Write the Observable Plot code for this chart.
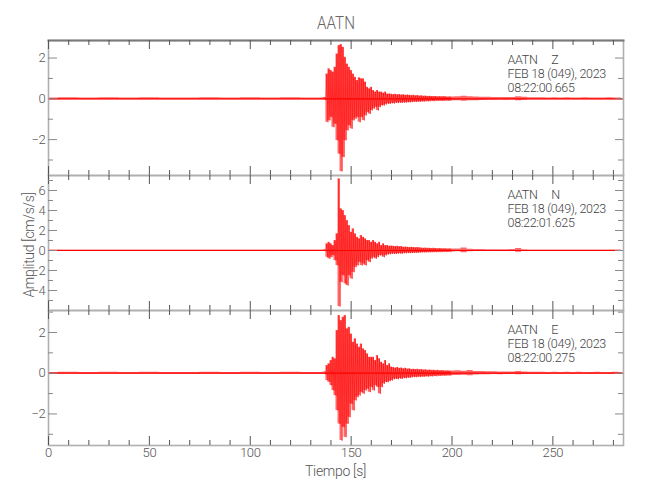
<!DOCTYPE html>
<html>
<head>
<meta charset="utf-8">
<script src="https://cdn.jsdelivr.net/npm/d3@7"></script>
<script src="https://cdn.jsdelivr.net/npm/@observablehq/plot@0.6"></script>
<style>
  body { margin: 0; background: white; }
  #wrap { position: relative; width: 650px; height: 500px; background: white; overflow: hidden; }
  #wrap svg { position: absolute; left: 0; }
  .lbl { position: absolute; font-family: Roboto, 'Liberation Sans', sans-serif; font-weight: 300; color: #555; white-space: nowrap; }
</style>
</head>
<body>
<div id="wrap"></div>
<script>
const FONT = "Roboto, 'Liberation Sans', sans-serif";

// sample times (s)
const time = [0,10,20,30,40,50,60,70,80,90,100,110,120,130,135,136,137,
  138,139,140,141,142,143,144,145,146,147,148,149,150,151,152,153,154,155,156,157,
  158,159,160,161,162,163,164,165,166,167,168,169,170,171,172,173,174,175,176,177,
  178,179,180,181,182,183,184,185,186,187,188,189,190,191,192,193,194,195,196,197,198,199,
  200,203,206,209,212,215,218,221,224,227,230,233,236,239,242,245,248,251,254,257,260,263,266,269,272,275,278,281,284];

// Z component: upper / lower peaks
const zUp = [0.04,0.05,0.04,0.05,0.04,0.05,0.04,0.04,0.05,0.04,0.05,0.04,0.05,0.04,0.04,0.05,0.06,
  1.22,1.47,1.39,1.31,1.55,2.20,2.61,2.66,2.53,2.04,
  1.71,1.55,1.39,1.22,1.06,0.90,1.03,0.98,0.98,0.82,
  0.57,0.49,0.57,0.41,0.33,0.41,0.33,0.33,0.28,0.33,
  0.24,0.24,0.22,0.21,0.22,0.20,0.21,0.19,0.20,0.18,
  0.19,0.17,0.16,0.17,0.15,0.16,0.14,0.15,0.13,0.14,
  0.12,0.13,0.12,0.11,0.12,0.10,0.11,0.10,0.11,0.10,
  0.09,0.10,
  0.09,0.10,0.13,0.10,0.09,0.08,0.08,0.07,0.07,0.06,0.07,0.10,0.08,0.05,0.05,0.05,0.04,0.05,0.04,0.05,0.04,0.04,0.05,0.04,0.04,0.04,0.05,0.04,0.04];
const zDn = [-0.05,-0.04,-0.05,-0.04,-0.05,-0.04,-0.05,-0.05,-0.04,-0.05,-0.04,-0.05,-0.04,-0.05,-0.05,-0.04,-0.06,
  -1.15,-1.06,-0.90,-1.39,-1.23,-2.04,-2.70,-3.56,-2.86,-2.04,
  -1.55,-1.31,-1.47,-1.06,-0.98,-0.90,-1.15,-0.90,-1.06,-0.82,
  -0.66,-0.74,-0.57,-0.49,-0.41,-0.57,-0.41,-0.33,-0.33,-0.28,
  -0.24,-0.25,-0.22,-0.23,-0.20,-0.21,-0.19,-0.20,-0.18,-0.19,
  -0.17,-0.18,-0.16,-0.15,-0.16,-0.14,-0.15,-0.13,-0.14,-0.12,
  -0.13,-0.12,-0.11,-0.12,-0.10,-0.11,-0.10,-0.11,-0.10,-0.09,
  -0.10,-0.09,
  -0.09,-0.10,-0.12,-0.10,-0.09,-0.08,-0.07,-0.07,-0.06,-0.07,-0.06,-0.09,-0.07,-0.05,-0.05,-0.04,-0.05,-0.04,-0.05,-0.04,-0.04,-0.05,-0.04,-0.04,-0.05,-0.04,-0.04,-0.04,-0.04];

// N component
const nUp = [0.05,0.06,0.05,0.06,0.05,0.06,0.05,0.05,0.06,0.05,0.06,0.05,0.06,0.05,0.05,0.06,0.07,
  0.67,0.83,0.67,0.50,1.00,1.67,7.17,4.17,4.00,3.50,
  3.00,2.50,1.83,2.17,1.67,1.33,1.17,1.50,1.33,1.17,
  1.00,1.00,0.83,1.00,0.83,0.67,0.83,0.50,0.67,0.50,
  0.50,0.43,0.45,0.43,0.40,0.43,0.38,0.40,0.33,0.35,
  0.33,0.30,0.32,0.30,0.28,0.30,0.27,0.25,0.23,0.25,
  0.22,0.23,0.20,0.22,0.20,0.18,0.20,0.18,0.17,0.18,
  0.16,0.17,
  0.15,0.14,0.25,0.12,0.10,0.09,0.08,0.08,0.07,0.08,0.09,0.20,0.08,0.06,0.06,0.05,0.05,0.05,0.05,0.04,0.05,0.04,0.05,0.04,0.04,0.05,0.04,0.04,0.04];
const nDn = [-0.06,-0.05,-0.06,-0.05,-0.06,-0.05,-0.06,-0.06,-0.05,-0.06,-0.05,-0.06,-0.05,-0.06,-0.06,-0.05,-0.07,
  -0.67,-0.83,-0.67,-0.50,-1.00,-1.50,-5.60,-3.17,-2.50,-3.33,
  -3.50,-2.50,-2.83,-2.17,-1.67,-1.50,-1.17,-1.50,-1.33,-1.50,
  -1.00,-1.17,-0.83,-0.67,-0.83,-0.67,-0.50,-0.50,-0.67,-0.50,
  -0.40,-0.38,-0.35,-0.33,-0.35,-0.32,-0.30,-0.33,-0.27,-0.28,
  -0.26,-0.27,-0.25,-0.24,-0.25,-0.23,-0.22,-0.20,-0.21,-0.20,
  -0.18,-0.19,-0.18,-0.17,-0.18,-0.16,-0.17,-0.16,-0.15,-0.16,
  -0.14,-0.15,
  -0.14,-0.13,-0.22,-0.12,-0.10,-0.09,-0.08,-0.07,-0.08,-0.07,-0.08,-0.18,-0.08,-0.06,-0.05,-0.05,-0.05,-0.04,-0.05,-0.05,-0.04,-0.05,-0.04,-0.04,-0.05,-0.04,-0.04,-0.04,-0.04];

// E component
const eUp = [0.04,0.05,0.04,0.05,0.04,0.05,0.04,0.04,0.05,0.04,0.05,0.04,0.05,0.04,0.04,0.05,0.06,
  0.38,0.46,0.62,0.79,0.71,2.10,2.84,2.59,2.75,2.84,
  2.18,2.26,1.93,1.52,1.69,1.44,1.28,1.44,1.20,1.12,
  0.95,0.79,0.79,0.79,0.62,0.87,0.71,0.54,0.46,0.62,
  0.38,0.46,0.30,0.28,0.26,0.28,0.24,0.26,0.22,0.24,
  0.21,0.22,0.18,0.20,0.18,0.19,0.17,0.18,0.16,0.17,
  0.15,0.16,0.14,0.15,0.13,0.14,0.12,0.13,0.12,0.11,
  0.12,0.11,
  0.11,0.12,0.10,0.13,0.09,0.08,0.07,0.07,0.06,0.06,0.06,0.08,0.06,0.05,0.05,0.05,0.04,0.05,0.04,0.05,0.04,0.05,0.04,0.04,0.05,0.04,0.04,0.05,0.04];
const eDn = [-0.05,-0.04,-0.05,-0.04,-0.05,-0.04,-0.05,-0.05,-0.04,-0.05,-0.04,-0.05,-0.04,-0.05,-0.05,-0.04,-0.06,
  -0.36,-0.44,-0.60,-0.85,-1.10,-1.83,-2.49,-3.31,-2.65,-3.14,
  -2.49,-2.16,-1.51,-1.83,-1.34,-1.18,-1.10,-0.93,-1.01,-0.85,
  -0.77,-0.93,-0.69,-0.85,-0.60,-0.69,-1.01,-0.69,-0.52,-0.44,
  -0.44,-0.39,-0.36,-0.30,-0.28,-0.30,-0.26,-0.28,-0.24,-0.25,
  -0.22,-0.23,-0.20,-0.19,-0.20,-0.18,-0.19,-0.17,-0.18,-0.16,
  -0.17,-0.15,-0.16,-0.14,-0.15,-0.13,-0.14,-0.12,-0.13,-0.12,
  -0.11,-0.12,
  -0.11,-0.11,-0.10,-0.12,-0.09,-0.08,-0.07,-0.06,-0.07,-0.06,-0.06,-0.08,-0.06,-0.05,-0.05,-0.04,-0.05,-0.04,-0.05,-0.04,-0.05,-0.04,-0.04,-0.05,-0.04,-0.04,-0.05,-0.04,-0.04];

// axis ticks
const xMajor = [0,50,100,150,200,250];
const xMinor = [10,20,30,40,60,70,80,90,110,120,130,140,160,170,180,190,210,220,230,240,260,270,280];
const zMajorY = [2,0,-2], zMinorY = [1,-1,-3], zLabelY = [2,0,-2];
const nMajorY = [6,4,2,0,-2,-4,-6], nMinorY = [7,5,3,1,-1,-3,-5], nLabelY = [6,4,2,0,-2,-4];
const eMajorY = [2,0,-2], eMinorY = [3,1,-1,-3], eLabelY = [2,0,-2];

const labels = {
  Z: ["AATN\u00a0\u00a0\u00a0\u00a0\u00a0Z", "FEB 18 (049), 2023", "08:22:00.665"],
  N: ["AATN\u00a0\u00a0\u00a0\u00a0\u00a0N", "FEB 18 (049), 2023", "08:22:01.625"],
  E: ["AATN\u00a0\u00a0\u00a0\u00a0\u00a0E", "FEB 18 (049), 2023", "08:22:00.275"]
};

function band(up, dn) {
  return time.map((t, i) => ({t, up: up[i], dn: dn[i]}));
}
function zigzag(up, dn) {
  const pts = [];
  for (let i = 0; i < time.length; i++) {
    const t = time[i];
    if (t < 137 || t >= 200) continue;
    const next = time[i + 1];
    pts.push({t, v: up[i]});
    pts.push({t: (t + next) / 2, v: dn[i]});
  }
  return pts;
}

const PH = 135, PW = 575;
const wrap = document.getElementById("wrap");
const fmt = d3.format("d");

function panel({up, dn, domain, majorY, minorY, labelY, text, top, bottomAxis, topDark}) {
  const mt = 4, mb = bottomAxis ? 24 : 4;
  const svg = Plot.plot({
    width: 650, height: PH + mt + mb,
    marginLeft: 48, marginRight: 27, marginTop: mt, marginBottom: mb,
    x: {domain: [0, 285], axis: null},
    y: {domain, axis: null},
    style: {background: "transparent", overflow: "visible", fontFamily: FONT, fontWeight: 300},
    marks: [
      Plot.ruleY([0], {stroke: "#ff0000", strokeWidth: 1.2}),
      Plot.areaY(band(up, dn), {x: "t", y1: "dn", y2: "up", fill: "#ff0000", fillOpacity: 0.6, curve: "step", clip: true}),
      Plot.line(zigzag(up, dn), {x: "t", y: "v", stroke: "#ff0000", strokeWidth: 0.6, clip: true}),
      Plot.frame({stroke: "#b0b0b0", strokeWidth: 1.6}),
      topDark ? Plot.frame({anchor: "top", stroke: "#7a7a7a", strokeWidth: 2}) : null,
      // x ticks, top & bottom, inward
      Plot.tickX(xMajor, {x: d => d, insetBottom: PH - 9, stroke: "#555"}),
      Plot.tickX(xMinor, {x: d => d, insetBottom: PH - 5, stroke: "#555"}),
      Plot.tickX(xMajor, {x: d => d, insetTop: PH - 9, stroke: "#555"}),
      Plot.tickX(xMinor, {x: d => d, insetTop: PH - 5, stroke: "#555"}),
      // y ticks, left & right, inward
      Plot.tickY(majorY, {y: d => d, insetRight: PW - 9, stroke: "#8a8a8a"}),
      Plot.tickY(minorY, {y: d => d, insetRight: PW - 5, stroke: "#8a8a8a"}),
      Plot.tickY(majorY, {y: d => d, insetLeft: PW - 8, stroke: "#8a8a8a"}),
      Plot.tickY(minorY, {y: d => d, insetLeft: PW - 5, stroke: "#8a8a8a"}),
      Plot.axisY({ticks: labelY, tickSize: 0, tickPadding: 3, tickFormat: fmt, fontSize: 13, fill: "#555", label: null}),
      bottomAxis ? Plot.axisX({ticks: xMajor, tickSize: 0, tickPadding: 2, tickFormat: fmt, fontSize: 13, fill: "#555", label: null}) : null,
      Plot.text([text.join("\n")], {frameAnchor: "top-left", dx: 459, dy: 14, text: d => d,
        textAnchor: "start", lineAnchor: "top", lineHeight: 1.12, fontSize: 12.5, fill: "#444"})
    ]
  });
  svg.style.top = (top - mt) + "px";
  svg.querySelectorAll("text").forEach(t => { t.style.letterSpacing = "-0.3px"; });
  wrap.appendChild(svg);
}

panel({up: zUp, dn: zDn, domain: [-3.76, 2.86], majorY: zMajorY, minorY: zMinorY, labelY: zLabelY, text: labels.Z, top: 40, topDark: true});
panel({up: nUp, dn: nDn, domain: [-6, 7.5], majorY: nMajorY, minorY: nMinorY, labelY: nLabelY, text: labels.N, top: 175});
panel({up: eUp, dn: eDn, domain: [-3.55, 3.08], majorY: eMajorY, minorY: eMinorY, labelY: eLabelY, text: labels.E, top: 310, bottomAxis: true});

function addLabel(txt, css) {
  const d = document.createElement("div");
  d.className = "lbl";
  d.textContent = txt;
  Object.assign(d.style, css);
  wrap.appendChild(d);
}
addLabel("AATN", {left: "335.5px", top: "22px", fontSize: "19px", transform: "translate(-50%,-50%) scaleX(0.8)", color: "#666"});
addLabel("Tiempo [s]", {left: "335.5px", top: "471px", fontSize: "14px", letterSpacing: "-0.3px", transform: "translate(-50%,-50%)"});
addLabel("Amplitud [cm/s/s]", {left: "29px", top: "245px", fontSize: "14px", letterSpacing: "-0.3px", transform: "translate(-50%,-50%) rotate(-90deg)"});
</script>
</body>
</html>
